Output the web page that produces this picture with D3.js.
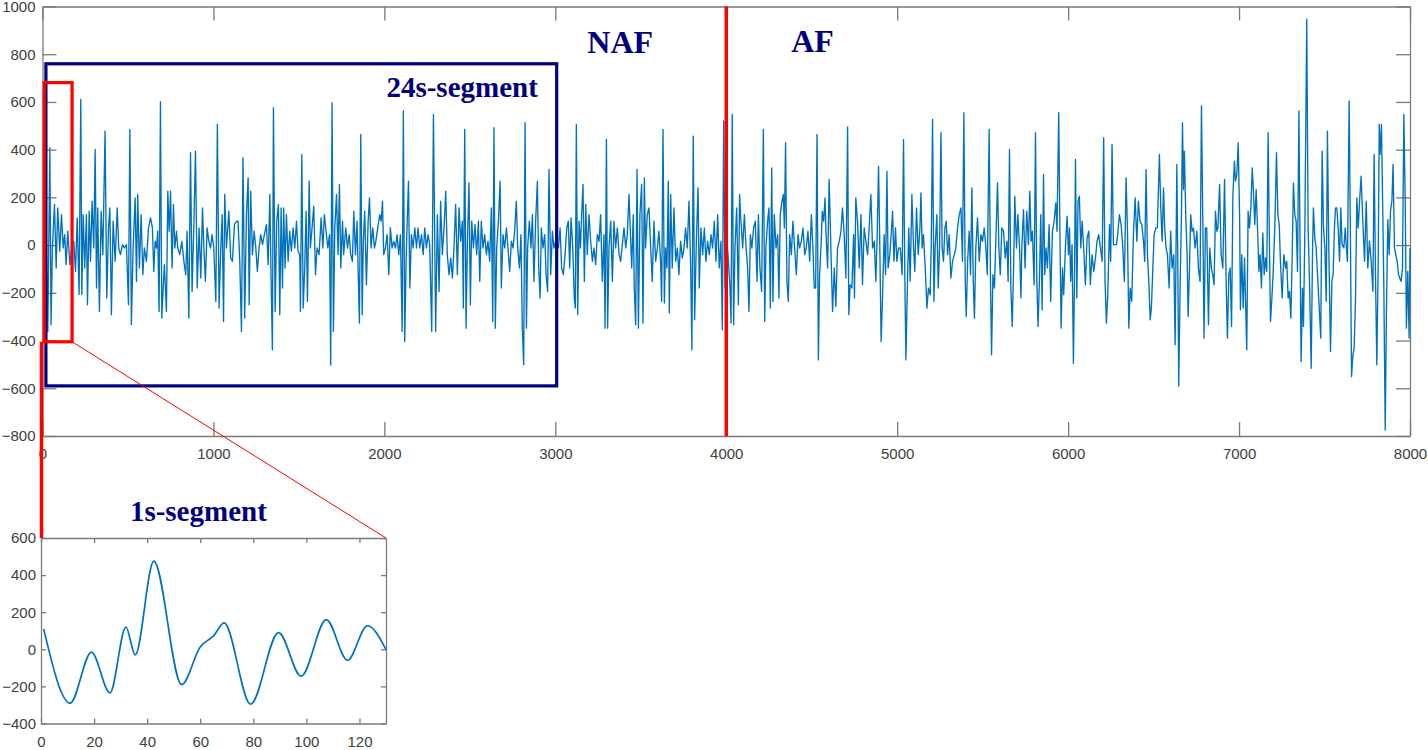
<!DOCTYPE html>
<html>
<head>
<meta charset="utf-8">
<script src="https://cdn.jsdelivr.net/npm/d3@7"></script>
<style>
  body { margin: 0; background: #fff; }
  svg { display: block; }
</style>
</head>
<body>
<div id="chart"></div>
<script>
// ECG trace (sample index, amplitude) in four chunks
const ecgNafA = [[5,60],[23,-12],[31,-362],[43,408],[50,-334],[58,-12],[70,170],[80,-96],[89,156],[101,-26],[111,128],[121,-12],[130,44],[138,-82],[148,58],[160,-82],[173,2],[183,16],[193,-110],[203,114],[214,-207],[224,611],[230,-207],[238,128],[247,-96],[257,128],[263,-250],[273,142],[281,-68],[290,184],[300,-12],[308,401],[316,-180],[323,156],[333,-278],[343,142],[353,-40],[366,478],[376,-222],[386,72],[394,156],[403,-292],[413,100],[425,-68],[437,156],[446,-12],[456,-40],[468,2],[479,-12],[491,2],[503,-250],[511,485],[520,-334],[530,-12],[542,198],[550,-152],[557,212],[567,-96],[577,128],[587,-124],[596,-12],[608,-68],[620,72],[632,114],[643,72],[651,-110],[659,16],[667,-12],[674,58],[682,-278],[690,601],[698,-306],[706,-180],[713,-82],[725,-278],[733,226],[741,58],[749,226],[758,-96],[766,170],[774,-12],[784,58],[791,-12],[803,-40],[815,16],[827,-68],[838,-124],[846,58],[856,-306],[866,387],[875,-194],[885,72],[895,394],[905,-180],[916,72],[926,-138],[936,156],[944,-12],[953,-152],[963,72],[973,16],[983,-12],[992,44],[1002,-12],[1014,-236],[1023,506],[1033,-264],[1043,-12],[1051,128],[1059,-320],[1066,212],[1076,-12],[1090,142],[1101,-54],[1111,-68],[1123,86],[1135,100],[1144,100],[1154,-68],[1164,-362],[1173,366],[1183,-306],[1193,128],[1203,282],[1209,-250],[1218,226],[1228,-40],[1238,58],[1248,-12],[1257,-110],[1267,-12],[1277,44],[1287,2],[1298,44],[1310,86],[1320,-82],[1330,212],[1337,-124],[1345,-439],[1351,576],[1361,-278],[1370,100],[1380,170],[1388,-292],[1396,156],[1404,-180],[1411,156],[1419,-96],[1427,128],[1437,-68],[1446,58],[1456,-26],[1466,72],[1476,-12],[1486,100],[1495,-26],[1505,-40],[1509,-278],[1517,380],[1525,-264],[1534,-96],[1542,142],[1550,-236],[1560,268],[1567,-12],[1577,72],[1587,163],[1597,-124],[1606,-12],[1618,-40],[1630,114],[1640,-12],[1649,128],[1659,58],[1669,-12],[1679,44],[1686,-502],[1694,597],[1702,-362],[1710,72],[1720,212],[1729,-40],[1737,254],[1745,-96],[1755,100],[1762,-40],[1774,72],[1784,-12],[1794,44],[1803,-40],[1813,-68],[1821,142],[1831,-40],[1840,100],[1848,-152],[1854,-327],[1862,464],[1870,-292],[1877,16],[1885,142],[1895,-166],[1905,100],[1913,198],[1922,-12],[1932,72],[1942,-12],[1950,16],[1961,72],[1973,128],[1981,100],[1989,184],[1996,-40]];

const ecgNafB = [[2006,-12],[2016,44],[2026,-124],[2035,72],[2045,-12],[2055,16],[2065,-12],[2074,44],[2084,-40],[2094,44],[2104,-362],[2111,562],[2119,-404],[2127,-68],[2133,86],[2141,268],[2149,-180],[2158,44],[2168,-12],[2178,72],[2188,-12],[2197,72],[2207,-12],[2217,44],[2227,-40],[2236,72],[2246,-12],[2256,44],[2265,2],[2277,-362],[2287,548],[2300,-362],[2310,128],[2320,-194],[2329,184],[2339,-40],[2349,72],[2359,226],[2368,-40],[2378,-124],[2388,-54],[2398,-138],[2407,-12],[2417,170],[2427,-124],[2437,156],[2446,16],[2456,100],[2462,-264],[2470,485],[2478,-348],[2485,-12],[2495,261],[2503,-250],[2511,100],[2521,-12],[2530,86],[2540,-40],[2550,100],[2558,-152],[2567,100],[2577,-12],[2587,44],[2597,-40],[2606,16],[2616,-68],[2626,156],[2634,-320],[2641,492],[2649,-348],[2657,-12],[2667,100],[2677,268],[2684,-180],[2694,44],[2704,-12],[2714,72],[2723,-12],[2733,-110],[2743,16],[2753,-12],[2762,58],[2772,184],[2780,-12],[2790,-96],[2799,44],[2807,-348],[2815,-502],[2823,513],[2831,-348],[2838,-12],[2848,100],[2858,-12],[2866,128],[2875,-152],[2885,100],[2895,268],[2903,-96],[2911,-222],[2918,72],[2928,-12],[2938,44],[2946,-124],[2955,-194],[2963,317],[2973,-124],[2983,58],[2992,-12],[3002,16],[3018,-12],[3028,72],[3037,-96],[3047,-124],[3057,-40],[3067,72],[3076,100],[3084,-96],[3092,114],[3102,-12],[3111,-222],[3117,-264],[3123,506],[3131,-292],[3139,100],[3147,-12],[3154,128],[3162,254],[3170,-152],[3178,170],[3187,-40],[3197,128],[3207,16],[3217,-68],[3226,-12],[3236,-82],[3246,44],[3256,16],[3265,128],[3275,-152],[3285,44],[3291,-348],[3299,443],[3306,-348],[3314,-12],[3324,100],[3334,-152],[3343,100],[3353,-12],[3363,72],[3373,-40],[3382,-68],[3392,2],[3402,72],[3412,-12],[3421,44],[3431,212],[3447,-96],[3456,128],[3462,-180],[3470,-334],[3478,317],[3486,-348],[3495,128],[3505,254],[3513,-327],[3521,282],[3528,-12],[3538,128],[3548,156],[3558,-12],[3567,-152],[3577,100],[3587,-68],[3597,-12],[3606,58],[3616,-68],[3622,-236],[3630,485],[3638,-243],[3645,-12],[3653,-96],[3661,268],[3667,-285],[3675,212],[3684,-96],[3694,156],[3704,-68],[3714,-12],[3723,-124],[3733,16],[3743,-54],[3753,-12],[3762,72],[3772,-12],[3782,184],[3792,-96],[3799,-439],[3807,457],[3815,-313],[3825,16],[3835,240],[3842,-180],[3852,72],[3862,-40],[3872,72],[3881,-68],[3891,16],[3901,-40],[3911,44],[3920,-12],[3930,100],[3940,-68],[3950,128],[3959,-96],[3969,16],[3977,-355],[3985,520],[3993,-180]];

const ecgAfA = [[4004,30],[4022,-180],[4028,-327],[4035,548],[4043,-334],[4051,-12],[4061,156],[4071,-250],[4078,212],[4086,100],[4096,-12],[4106,128],[4115,2],[4125,-96],[4133,-278],[4141,44],[4150,-12],[4160,72],[4170,100],[4180,-152],[4188,128],[4197,-96],[4207,-194],[4217,485],[4225,-320],[4232,-12],[4242,100],[4250,156],[4258,-264],[4266,324],[4273,-236],[4281,128],[4291,-12],[4301,44],[4308,-222],[4316,128],[4326,184],[4334,212],[4340,72],[4347,429],[4355,-152],[4363,-236],[4371,44],[4381,-40],[4390,100],[4400,-12],[4410,-124],[4420,44],[4429,-12],[4439,16],[4449,72],[4459,-40],[4468,-12],[4478,58],[4488,-68],[4498,128],[4507,-12],[4515,-180],[4523,-180],[4531,464],[4539,-481],[4546,-124],[4554,-12],[4562,142],[4570,100],[4578,198],[4583,58],[4593,-96],[4602,275],[4612,-12],[4622,-278],[4632,-96],[4641,-257],[4651,-12],[4661,16],[4671,58],[4680,156],[4690,44],[4700,-138],[4710,495],[4717,-292],[4725,-166],[4735,-180],[4745,44],[4750,-222],[4758,198],[4768,100],[4778,-96],[4788,128],[4797,-166],[4807,72],[4817,16],[4827,-40],[4836,72],[4846,212],[4856,-12],[4866,16],[4875,-152],[4883,44],[4891,331],[4899,-40],[4906,-404],[4914,-222],[4924,44],[4932,-124],[4940,310],[4947,-96],[4957,-40],[4965,44],[4973,142],[4981,-68],[4990,72],[4998,-68],[5008,-12],[5018,-12],[5029,-124],[5037,443],[5045,-152],[5051,-481],[5061,-124],[5068,72],[5076,-152],[5086,212],[5096,-12],[5103,-110],[5113,156],[5123,-40],[5133,72],[5139,219],[5146,-12],[5154,44],[5164,-96],[5174,-264],[5183,-180],[5193,-208],[5199,-12],[5207,527],[5215,-236],[5222,-12],[5232,128],[5240,-180],[5248,-12],[5256,471],[5263,-12],[5271,-68],[5279,72],[5287,100],[5295,-40],[5304,44],[5314,-138],[5324,-68],[5334,-40],[5343,-12],[5353,72],[5363,128],[5373,156],[5382,-68],[5390,555],[5398,-152],[5404,-299],[5412,-68],[5421,58],[5429,-124],[5437,240],[5445,-152],[5452,-306],[5460,-12],[5470,114],[5480,-68],[5490,44],[5499,16],[5509,72],[5519,-12],[5527,-124],[5538,485],[5546,-152],[5552,-460],[5560,-124],[5569,-180],[5577,16],[5587,261],[5595,-12],[5603,-124],[5612,72],[5622,58],[5632,-54],[5642,16],[5649,-152],[5657,401],[5665,-180],[5673,-341],[5681,-96],[5688,205],[5698,-12],[5706,128],[5716,-12],[5724,-222],[5729,-12],[5739,149],[5748,-96],[5758,142],[5768,2],[5776,226],[5783,16],[5791,58],[5801,-166],[5809,471],[5817,-152],[5824,-341],[5832,-152],[5840,128],[5848,-271],[5856,296],[5863,-124],[5871,-12],[5879,-96],[5889,86],[5898,-236],[5908,58],[5918,100],[5928,177],[5935,58],[5945,555],[5953,-12],[5959,-348],[5967,-96],[5974,-208],[5984,-12],[5994,121]];

const ecgAfB = [[6002,-40],[6008,72],[6015,-152],[6023,2],[6031,-495],[6037,-152],[6043,359],[6051,-222],[6058,184],[6066,205],[6074,-12],[6082,100],[6091,-12],[6101,-166],[6111,30],[6121,58],[6130,-166],[6140,-40],[6150,-110],[6160,-54],[6169,16],[6179,44],[6189,-12],[6199,-68],[6208,450],[6216,-152],[6224,-327],[6232,-208],[6242,86],[6249,-68],[6257,422],[6265,2],[6273,2],[6283,2],[6292,58],[6300,128],[6310,86],[6320,-12],[6329,-152],[6339,282],[6347,72],[6355,-348],[6363,-180],[6372,-236],[6382,44],[6392,198],[6402,16],[6411,184],[6421,100],[6431,86],[6441,16],[6448,-68],[6456,317],[6464,-40],[6472,-152],[6480,-313],[6487,-264],[6495,-110],[6503,44],[6513,72],[6522,72],[6534,380],[6542,156],[6550,16],[6558,240],[6565,72],[6573,-12],[6581,-40],[6591,-180],[6600,58],[6608,-96],[6618,-40],[6626,-418],[6636,338],[6641,-12],[6647,-592],[6655,-180],[6663,128],[6669,513],[6675,233],[6680,394],[6688,128],[6696,-40],[6702,-299],[6710,-96],[6717,128],[6725,58],[6733,72],[6743,-12],[6753,58],[6762,-96],[6772,-152],[6780,583],[6788,100],[6795,-390],[6803,72],[6811,72],[6821,-334],[6829,-12],[6838,-96],[6846,-124],[6854,-166],[6862,142],[6870,58],[6876,72],[6886,254],[6895,-40],[6905,-96],[6915,275],[6925,-180],[6932,-390],[6940,-124],[6948,-96],[6956,-341],[6964,212],[6973,352],[6979,268],[6987,296],[6995,429],[7003,128],[7008,-271],[7016,-40],[7024,-264],[7032,-54],[7038,-236],[7045,-439],[7053,142],[7061,72],[7069,156],[7077,324],[7084,226],[7092,86],[7100,233],[7108,72],[7116,-110],[7123,-40],[7131,-180],[7139,51],[7147,-124],[7155,-54],[7162,-110],[7170,471],[7178,-12],[7184,-320],[7192,-222],[7199,-124],[7209,72],[7219,387],[7227,128],[7235,86],[7242,-68],[7252,-222],[7262,-40],[7272,-96],[7279,-68],[7287,-222],[7295,-194],[7303,-306],[7311,-40],[7318,261],[7326,128],[7334,100],[7342,-110],[7350,562],[7357,-12],[7363,-488],[7371,-180],[7377,-341],[7385,72],[7396,947],[7404,72],[7412,-152],[7422,-516],[7430,-12],[7435,156],[7443,30],[7451,-12],[7461,-152],[7471,-292],[7478,-390],[7486,394],[7494,72],[7502,-12],[7510,-236],[7517,478],[7525,-12],[7535,-446],[7543,-152],[7550,-124],[7558,72],[7564,156],[7572,156],[7580,72],[7588,-68],[7595,156],[7603,2],[7613,-12],[7621,72],[7628,-12],[7634,-68],[7644,604],[7652,-12],[7658,-551],[7666,-460],[7673,-432],[7681,-236],[7689,198],[7697,72],[7705,184],[7714,289],[7724,100],[7734,-68],[7744,184],[7753,-96],[7763,16],[7773,-68],[7783,-194],[7790,380],[7798,-124],[7806,-502],[7814,-68],[7820,506],[7825,380],[7833,506],[7841,128],[7847,-180],[7855,-775],[7862,-292],[7870,107],[7878,-40],[7886,142],[7894,184],[7901,338],[7909,-12],[7917,-40],[7925,-68],[7933,-124],[7940,-138],[7948,-152],[7956,-96],[7964,548],[7972,184],[7979,-348],[7987,-110],[7995,-390],[8000,-12]];

// 1 s segment (zoomed inset): sample, amplitude at the turning points
const segSamples = [1, 11, 19, 26, 32, 35.5, 42.5, 53, 60, 65, 69, 79, 89.5, 98, 107.5, 115.5, 123, 130];
const segValues  = [110, -290, -15, -235, 120, -30, 475, -190, 13, 72, 142, -296, 90, -145, 160, -59, 127, -2];

const mainXTicks = [0, 1000, 2000, 3000, 4000, 5000, 6000, 7000, 8000];
const mainYTicks = [-800, -600, -400, -200, 0, 200, 400, 600, 800, 1000];
const segXTicks = [0, 20, 40, 60, 80, 100, 120];
const segYTicks = [-400, -200, 0, 200, 400, 600];

// annotation boxes in data units
const box24 = {x0: 20, x1: 3008, y0: -590, y1: 760};
const box1 = {x0: 10, x1: 173, y0: -405, y1: 681};
const splitAt = 4000;

const width = 1428, height = 750;
const blue = '#0072BD', navy = '#000080', red = '#ff0000', axisGray = '#7a7a7a';

const svg = d3.select('#chart').append('svg')
    .attr('width', width)
    .attr('height', height)
    .attr('viewBox', [0, 0, width, height]);

const x = d3.scaleLinear().domain([0, 8000]).range([42.5, 1410]);
const y = d3.scaleLinear().domain([-800, 1000]).range([436, 6.5]);
const xs = d3.scaleLinear().domain([0, 130]).range([41, 386]);
const ys = d3.scaleLinear().domain([-400, 600]).range([723.5, 538]);

const plain = d3.format('d');

// matlab style box axes, ticks pointing inward on all four sides
function drawAxes(xScale, yScale, xTicks, yTicks, tick, padX, padY) {
    const [yb, yt] = yScale.range();
    const [xl, xr] = xScale.range();
    const g = svg.append('g');

    g.append('g').attr('transform', `translate(0,${yb})`)
        .call(d3.axisBottom(xScale).tickValues(xTicks).tickFormat(plain)
            .tickSizeInner(-tick).tickSizeOuter(0).tickPadding(padX));
    g.append('g').attr('transform', `translate(0,${yt})`)
        .call(d3.axisTop(xScale).tickValues(xTicks).tickFormat('')
            .tickSizeInner(-tick).tickSizeOuter(0));
    g.append('g').attr('transform', `translate(${xl},0)`)
        .call(d3.axisLeft(yScale).tickValues(yTicks).tickFormat(plain)
            .tickSizeInner(-tick).tickSizeOuter(0).tickPadding(padY));
    g.append('g').attr('transform', `translate(${xr},0)`)
        .call(d3.axisRight(yScale).tickValues(yTicks).tickFormat('')
            .tickSizeInner(-tick).tickSizeOuter(0));

    g.selectAll('.domain').attr('stroke', axisGray).attr('stroke-width', 1.3);
    g.selectAll('.tick line').attr('stroke', axisGray).attr('stroke-width', 1.3);
    g.selectAll('text')
        .attr('fill', '#404040')
        .attr('font-family', '"Liberation Sans", Arial, sans-serif')
        .attr('font-size', 15);
    return g;
}

drawAxes(x, y, mainXTicks, mainYTicks, 14, 12, 7);
drawAxes(xs, ys, segXTicks, segYTicks, 5, 13, 5);

// main trace
const ecg = [...ecgNafA, ...ecgNafB, ...ecgAfA, ...ecgAfB];
svg.append('path')
    .datum(ecg)
    .attr('fill', 'none')
    .attr('stroke', blue)
    .attr('stroke-width', 1.35)
    .attr('stroke-linejoin', 'round')
    .attr('d', d3.line().x(d => x(d[0])).y(d => y(d[1])));

// inset trace
svg.append('path')
    .datum(d3.zip(segSamples, segValues))
    .attr('fill', 'none')
    .attr('stroke', blue)
    .attr('stroke-width', 1.7)
    .attr('d', d3.line().curve(d3.curveMonotoneX).x(d => xs(d[0])).y(d => ys(d[1])));

// 24 s segment box
svg.append('rect')
    .attr('x', x(box24.x0)).attr('y', y(box24.y1))
    .attr('width', x(box24.x1) - x(box24.x0))
    .attr('height', y(box24.y0) - y(box24.y1))
    .attr('fill', 'none').attr('stroke', navy).attr('stroke-width', 3.2);

// 1 s segment box + connectors to the inset
svg.append('rect')
    .attr('x', x(box1.x0)).attr('y', y(box1.y1))
    .attr('width', x(box1.x1) - x(box1.x0))
    .attr('height', y(box1.y0) - y(box1.y1))
    .attr('fill', 'none').attr('stroke', red).attr('stroke-width', 3.2);

svg.append('line')
    .attr('x1', xs(0) + 0.5).attr('y1', y(box1.y0))
    .attr('x2', xs(0) + 0.5).attr('y2', ys(600))
    .attr('stroke', red).attr('stroke-width', 3.5);

svg.append('line')
    .attr('x1', x(box1.x1)).attr('y1', y(box1.y0))
    .attr('x2', xs(130)).attr('y2', ys(600))
    .attr('stroke', red).attr('stroke-width', 1);

// NAF / AF split
svg.append('line')
    .attr('x1', x(splitAt)).attr('y1', y(1000))
    .attr('x2', x(splitAt)).attr('y2', y(-800))
    .attr('stroke', red).attr('stroke-width', 3.5);

const labels = [
    {text: 'NAF', x: x(3187), y: y(804), size: 32},
    {text: 'AF', x: x(4380), y: y(808), size: 32},
    {text: '24s-segment', x: x(2012), y: y(622), size: 29},
    {text: '1s-segment', x: xs(33.5), y: ys(692), size: 29}
];

svg.append('g')
    .selectAll('text')
    .data(labels)
    .join('text')
    .attr('x', d => d.x)
    .attr('y', d => d.y)
    .attr('font-family', '"Liberation Serif", "Times New Roman", serif')
    .attr('font-weight', 'bold')
    .attr('font-size', d => d.size)
    .attr('fill', navy)
    .text(d => d.text);
</script>
</body>
</html>
